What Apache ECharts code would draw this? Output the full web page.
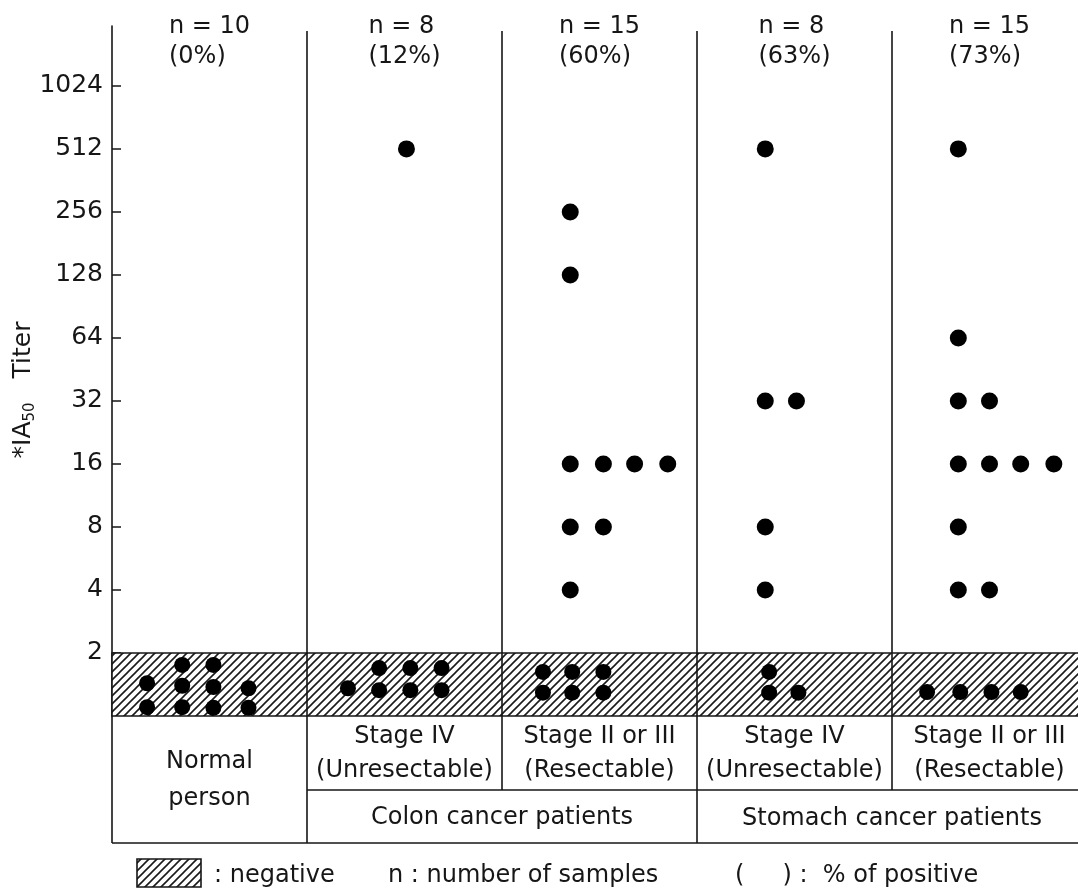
<!DOCTYPE html>
<html>
<head>
<meta charset="utf-8">
<script src="https://cdn.jsdelivr.net/npm/echarts@6/dist/echarts.min.js"></script>
<style>
html,body{margin:0;padding:0;background:#fff;}
#c{width:1078px;height:893px;}
</style>
</head>
<body>
<div id="c"></div>
<script>
// ---- data ----
const categories = ['Normal person', 'Colon Stage IV', 'Colon Stage II/III', 'Stomach Stage IV', 'Stomach Stage II/III'];
const groupCounts = [10, 8, 15, 8, 15];
const groupPositivePct = [0, 12, 60, 63, 73];
const stageLabels = ['', 'Stage IV', 'Stage II or III', 'Stage IV', 'Stage II or III'];
const resectLabels = ['', '(Unresectable)', '(Resectable)', '(Unresectable)', '(Resectable)'];
const normalLabel = 'Normal\nperson';
const patientGroups = ['Colon cancer patients', 'Stomach cancer patients'];
const titerTicks = [2, 4, 8, 16, 32, 64, 128, 256, 512, 1024];
const yAxisTitle = ['*IA', '50', '   Titer'];
const legendTexts = [': negative', 'n : number of samples', '(     ) :  % of positive'];

// positive samples: x position (column index + place inside column) and titer
const positiveX = [1.51,
  2.35, 2.35, 2.35, 2.52, 2.68, 2.85, 2.35, 2.52, 2.35,
  3.35, 3.35, 3.51, 3.35, 3.35,
  4.34, 4.34, 4.34, 4.50, 4.34, 4.50, 4.66, 4.83, 4.34, 4.34, 4.50];
const positiveTiter = [512,
  256, 128, 16, 16, 16, 16, 8, 8, 4,
  512, 32, 32, 8, 4,
  512, 64, 32, 32, 16, 16, 16, 16, 8, 4, 4];

// negative samples (< 2): x position and place inside the hatched band (log2 units, 0..1)
const negativeX = [0.18, 0.18, 0.36, 0.36, 0.36, 0.52, 0.52, 0.52, 0.70, 0.70,
  1.21, 1.37, 1.37, 1.53, 1.53, 1.69, 1.69,
  2.21, 2.21, 2.36, 2.36, 2.52, 2.52,
  3.37, 3.37, 3.52,
  4.18, 4.35, 4.51, 4.66];
const negativeLevel = [0.52, 0.14, 0.81, 0.48, 0.14, 0.81, 0.46, 0.13, 0.44, 0.13,
  0.44, 0.76, 0.41, 0.76, 0.41, 0.76, 0.41,
  0.70, 0.37, 0.70, 0.37, 0.70, 0.37,
  0.70, 0.37, 0.37,
  0.38, 0.38, 0.38, 0.38];

// ---- helpers ----
const FONT = 'DejaVu Sans';
const INK = '#161616';
function makeHatch() {
  const s = 8, c = document.createElement('canvas');
  c.width = s; c.height = s;
  const g = c.getContext('2d');
  g.fillStyle = '#fff'; g.fillRect(0, 0, s, s);
  g.strokeStyle = '#1a1a1a'; g.lineWidth = 1.6;
  g.beginPath();
  g.moveTo(-1, s + 1); g.lineTo(s + 1, -1);
  g.moveTo(-2, 2); g.lineTo(2, -2);
  g.moveTo(s - 2, s + 2); g.lineTo(s + 2, s - 2);
  g.stroke();
  return c;
}
const hatch = { image: makeHatch(), repeat: 'repeat' };

const positives = positiveX.map((x, i) => [x, Math.log2(positiveTiter[i])]);
const negatives = negativeX.map((x, i) => [x, negativeLevel[i]]);
const nCols = categories.length;

const chart = echarts.init(document.getElementById('c'), null, { renderer: 'canvas' });
const option = {
  animation: false,
  backgroundColor: '#fff',
  textStyle: { fontFamily: FONT, color: INK },
  grid: { left: 112, right: -9, top: 26, bottom: 177, outerBoundsMode: 'none', containLabel: false },
  xAxis: [
    { type: 'value', min: 0, max: nCols, show: false },
    {
      type: 'category', data: categories, position: 'top', boundaryGap: true,
      axisLine: { show: false }, axisTick: { show: false }, splitLine: { show: false },
      axisLabel: {
        interval: 0, margin: -46,
        formatter: (v, i) => `{l|n = ${groupCounts[i]}}\n{l|(${groupPositivePct[i]}%)}`,
        rich: { l: { align: 'left', fontSize: 24, fontFamily: FONT, color: INK, lineHeight: 30 } }
      }
    }
  ],
  yAxis: {
    type: 'value', min: 0, max: 10.95,
    axisLine: { show: true, lineStyle: { color: INK, width: 1.6 } },
    axisTick: { show: true, inside: true, length: 9, customValues: titerTicks.map(Math.log2), lineStyle: { color: INK, width: 1.5 } },
    axisLabel: {
      customValues: titerTicks.map(Math.log2), margin: 9,
      formatter: v => String(Math.round(Math.pow(2, v))),
      fontSize: 25, fontFamily: FONT, color: INK
    },
    splitLine: { show: false },
    name: `{a|${yAxisTitle[0]}}{s|${yAxisTitle[1]}}{a|${yAxisTitle[2]}}`,
    nameLocation: 'middle', nameRotate: 90, nameGap: 74, nameMoveOverlap: false,
    nameTextStyle: {
      padding: [0, 38, 0, 0],
      rich: {
        a: { fontSize: 25, fontFamily: FONT, color: INK, lineHeight: 30 },
        s: { fontSize: 15, fontFamily: FONT, color: INK, lineHeight: 30, verticalAlign: 'bottom' }
      }
    }
  },
  series: [
    {
      type: 'scatter', name: 'negative', data: negatives, symbol: 'circle', symbolSize: 16,
      itemStyle: { color: '#000', opacity: 1 }, silent: true, z: 3,
      markArea: {
        silent: true,
        itemStyle: { color: hatch, borderColor: INK, borderWidth: 1.6, opacity: 1 },
        data: [[{ coord: [0, 0] }, { coord: [nCols, 1] }]]
      },
      markLine: {
        silent: true, symbol: ['none', 'none'], label: { show: false },
        lineStyle: { color: INK, width: 1.6, type: 'solid', opacity: 1 },
        data: [1, 2, 3, 4].map(x => [{ coord: [x, 0] }, { coord: [x, 10.87] }])
      }
    },
    {
      type: 'scatter', name: 'positive', data: positives, symbol: 'circle', symbolSize: 17,
      itemStyle: { color: '#000', opacity: 1 }, silent: true, z: 3
    }
  ]
};
chart.setOption(option);

// ---- table under the plot and legend ----
const px = x => chart.convertToPixel({ xAxisIndex: 0 }, x);
const yTop = chart.convertToPixel({ yAxisIndex: 0 }, 0);
const yMid = yTop + 74, yBot = yTop + 127;
const line = (x1, y1, x2, y2) => ({ type: 'line', silent: true, z: 10, shape: { x1, y1, x2, y2 }, style: { stroke: INK, lineWidth: 1.6 } });
const text = (t, x, y, opt) => ({ type: 'text', silent: true, z: 10, x, y, style: Object.assign({ text: t, fill: INK, fontSize: 24, fontFamily: FONT, align: 'center', verticalAlign: 'middle', lineHeight: 35 }, opt || {}) });

const g = [];
g.push(line(px(0), yTop, px(0), yBot));
for (let i = 1; i <= nCols; i++) {
  const full = (i === 1 || i === 3 || i === 5);
  g.push(line(px(i), yTop, px(i), full ? yBot : yMid));
}
g.push(line(px(1), yMid, px(nCols), yMid));
g.push(line(px(0), yBot, px(nCols), yBot));
g.push(text(normalLabel, (px(0) + px(1)) / 2, (yTop + yBot) / 2 + 1, { lineHeight: 37 }));
for (let i = 1; i < nCols; i++) {
  g.push(text(stageLabels[i] + '\n' + resectLabels[i], (px(i) + px(i + 1)) / 2, (yTop + yMid) / 2 + 1, { lineHeight: 34 }));
}
g.push(text(patientGroups[0], (px(1) + px(3)) / 2, (yMid + yBot) / 2 + 1));
g.push(text(patientGroups[1], (px(3) + px(5)) / 2, (yMid + yBot) / 2 + 2));
// legend
g.push({ type: 'rect', silent: true, z: 10, shape: { x: 137, y: 859, width: 64, height: 28 }, style: { fill: hatch, stroke: INK, lineWidth: 1.6 } });
g.push(text(legendTexts[0], 214, 876, { align: 'left' }));
g.push(text(legendTexts[1], 388, 876, { align: 'left' }));
g.push(text(legendTexts[2], 735, 876, { align: 'left' }));
chart.setOption({ graphic: g });
</script>
</body>
</html>
